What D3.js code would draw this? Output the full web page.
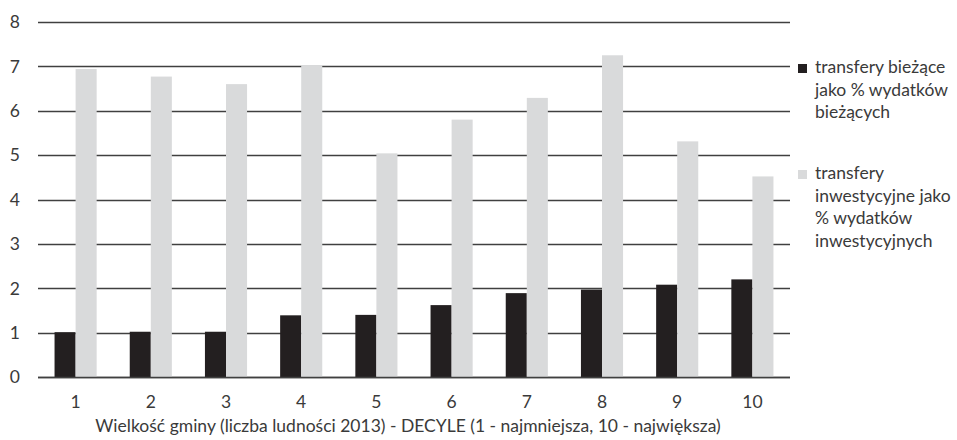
<!DOCTYPE html>
<html>
<head>
<meta charset="utf-8">
<script src="https://cdn.jsdelivr.net/npm/d3@7"></script>
<style>
  html, body { margin: 0; padding: 0; background: #fff; }
  svg { display: block; }
  text { font-family: Lato, "Open Sans", sans-serif; fill: #3a3a3a; }
</style>
</head>
<body>
<svg id="chart" width="957" height="440"></svg>
<script>
// Decile groups of municipalities (gminy) by population
const deciles = ["1", "2", "3", "4", "5", "6", "7", "8", "9", "10"];
// Current transfers as % of current expenditure
const currentTransfers = [1.01, 1.02, 1.02, 1.39, 1.40, 1.62, 1.89, 1.97, 2.08, 2.20];
// Investment transfers as % of investment expenditure
const investmentTransfers = [6.94, 6.77, 6.60, 7.03, 5.04, 5.80, 6.29, 7.25, 5.31, 4.52];
const yTicks = [0, 1, 2, 3, 4, 5, 6, 7, 8];
const seriesNames = [
  ["transfery bieżące", "jako % wydatków", "bieżących"],
  ["transfery", "inwestycyjne jako", "% wydatków", "inwestycyjnych"]
];
const xTitle = "Wielkość gminy (liczba ludności 2013) - DECYLE (1 - najmniejsza, 10 - największa)";
const colors = ["#231f20", "#d9dadb"];

const svg = d3.select("#chart");
const plot = { left: 38, right: 790, top: 22, bottom: 377 };
const fontSize = 17.5;

const x = d3.scaleBand().domain(deciles).range([plot.left, plot.right]).paddingInner(0.44).paddingOuter(0.22);
const y = d3.scaleLinear().domain([0, 8]).range([plot.bottom, plot.top]);
const barW = x.bandwidth() / 2;

// horizontal gridlines
svg.append("g")
  .selectAll("line")
  .data(yTicks)
  .join("line")
  .attr("x1", plot.left).attr("x2", plot.right)
  .attr("y1", d => Math.round(y(d)) + 0.5).attr("y2", d => Math.round(y(d)) + 0.5)
  .attr("stroke", "#404040").attr("stroke-width", 1.6);

// y-axis labels
svg.append("g")
  .selectAll("text")
  .data(yTicks)
  .join("text")
  .attr("x", 20).attr("y", d => y(d))
  .attr("dy", "0.36em")
  .attr("text-anchor", "end")
  .attr("font-size", fontSize)
  .text(d => d);

// bars
const rows = deciles.map((d, i) => ({ d, v: [currentTransfers[i], investmentTransfers[i]] }));
const groups = svg.append("g")
  .selectAll("g")
  .data(rows)
  .join("g")
  .attr("transform", r => `translate(${x(r.d)},0)`);
groups.selectAll("rect")
  .data(r => r.v)
  .join("rect")
  .attr("x", (v, j) => j * barW)
  .attr("width", barW)
  .attr("y", v => y(v))
  .attr("height", v => y(0) - y(v))
  .attr("fill", (v, j) => colors[j]);

// baseline on top of bars
svg.append("line")
  .attr("x1", plot.left).attr("x2", plot.right)
  .attr("y1", Math.round(y(0)) + 0.5).attr("y2", Math.round(y(0)) + 0.5)
  .attr("stroke", "#404040").attr("stroke-width", 1.6);

// x-axis labels
svg.append("g")
  .selectAll("text")
  .data(deciles)
  .join("text")
  .attr("x", d => x(d) + x.bandwidth() / 2)
  .attr("y", 408)
  .attr("text-anchor", "middle")
  .attr("font-size", fontSize)
  .text(d => d);

// axis title
svg.append("text")
  .attr("x", 408).attr("y", 432)
  .attr("text-anchor", "middle")
  .attr("font-size", fontSize)
  .text(xTitle);

// legend
const legendTops = [64, 170];
const legend = svg.append("g");
seriesNames.forEach((lines, i) => {
  legend.append("rect")
    .attr("x", 798).attr("y", legendTops[i])
    .attr("width", 9).attr("height", 9)
    .attr("fill", colors[i]);
  legend.append("text")
    .attr("x", 815).attr("y", legendTops[i] + 9)
    .attr("font-size", fontSize)
    .selectAll("tspan")
    .data(lines)
    .join("tspan")
    .attr("x", 815)
    .attr("dy", (l, k) => k === 0 ? 0 : 22.5)
    .text(l => l);
});
</script>
</body>
</html>
